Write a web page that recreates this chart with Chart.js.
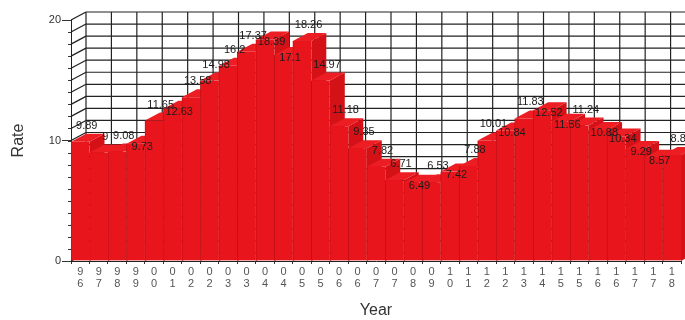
<!DOCTYPE html>
<html>
<head>
<meta charset="utf-8">
<script src="https://cdn.jsdelivr.net/npm/chart.js@4.4.0/dist/chart.umd.min.js"></script>
<style>
  body { margin: 0; background: #fff; }
  #wrap { width: 685px; height: 320px; }
</style>
</head>
<body>
<div id="wrap"><canvas id="chartRate"></canvas></div>
<script>
// dados
const anos = ['96','97','98','99','00','01','02','02','03','03','04','04','05','05','06','06','07','07','08','09','10','11','12','12','13','14','15','15','16','16','17','17','18'];
const taxas = [9.89, 9, 9.08, 9.73, 11.65, 12.63, 13.58, 14.98, 16.2, 17.37, 18.39, 17.1, 18.26, 14.97, 11.18, 9.35, 7.82, 6.71, 6.49, 6.53, 7.42, 7.88, 10.01, 10.84, 11.83, 12.52, 11.56, 11.24, 10.88, 10.34, 9.29, 8.57, 8.8];
const yMin = 0;
const yMax = 20;

const fonte = "'Liberation Sans', Arial, sans-serif";
const prof = { dx: 15, dy: -8 };   // profundidade do efeito 3D

function linha(ctx, x1, y1, x2, y2) {
    ctx.beginPath();
    ctx.moveTo(x1, y1);
    ctx.lineTo(x2, y2);
    ctx.stroke();
}

function poligono(ctx, pts, cor) {
    ctx.beginPath();
    ctx.moveTo(pts[0][0], pts[0][1]);
    for (let i = 1; i < pts.length; i++) ctx.lineTo(pts[i][0], pts[i][1]);
    ctx.closePath();
    ctx.fillStyle = cor;
    ctx.fill();
}

// parede do fundo + faces de cima e do lado das barras
const parede3D = {
    id: 'parede3D',
    beforeDatasetsDraw(chart) {
        const { ctx, chartArea: a, scales: { x, y } } = chart;
        ctx.save();
        ctx.strokeStyle = '#222';
        ctx.lineWidth = 1.2;

        for (let v = yMin; v <= yMax; v++) {
            const py = y.getPixelForValue(v);
            linha(ctx, a.left, py, a.left + prof.dx, py + prof.dy);
            linha(ctx, a.left + prof.dx, py + prof.dy, a.right + prof.dx, py + prof.dy);
        }
        const n = 24;
        for (let i = 0; i <= n; i++) {
            const px = a.left + prof.dx + (a.right - a.left) * i / n;
            linha(ctx, px, y.getPixelForValue(yMax) + prof.dy, px, y.getPixelForValue(yMin) + prof.dy);
        }

        const base = y.getPixelForValue(0);
        chart.getDatasetMeta(0).data.forEach(bar => {
            const p = bar.getProps(['x', 'y', 'width'], true);
            const x0 = p.x - p.width / 2;
            const x1 = p.x + p.width / 2;
            poligono(ctx, [[x1, p.y], [x1 + prof.dx, p.y + prof.dy], [x1 + prof.dx, base + prof.dy], [x1, base]], '#d31117');
            poligono(ctx, [[x0, p.y], [x1, p.y], [x1 + prof.dx, p.y + prof.dy], [x0 + prof.dx, p.y + prof.dy]], '#ec1d23');
        });
        ctx.restore();
    },
    afterDatasetsDraw(chart) {
        // rótulos de valor, evitando sobreposição
        const { ctx } = chart;
        ctx.save();
        ctx.font = '11px ' + fonte;
        ctx.fillStyle = '#1c1c1c';
        ctx.textAlign = 'center';
        ctx.textBaseline = 'middle';
        const caixas = [];
        const colide = (c) => caixas.some(b => c.l < b.r && c.r > b.l && Math.abs(c.y - b.y) < 13);
        chart.getDatasetMeta(0).data.forEach((bar, i) => {
            const txt = String(taxas[i]);
            const w = ctx.measureText(txt).width;
            const cx = bar.x + prof.dx / 2 - 1;
            let c = { l: cx - w / 2, r: cx + w / 2, y: bar.y - 16 };
            if (colide(c)) c.y = bar.y + 3;
            caixas.push(c);
            ctx.fillText(txt, cx, c.y);
        });
        ctx.restore();
    }
};

const ctx = document.getElementById('chartRate').getContext('2d');
const graficoTaxa = new Chart(ctx, {
    type: 'bar',
    data: {
        labels: anos,
        datasets: [{
            label: 'Rate',
            data: taxas,
            backgroundColor: '#e8161c',
            borderColor: '#c41016',
            borderWidth: { left: 1, right: 0, top: 0, bottom: 0 },
            borderSkipped: false,
            categoryPercentage: 1,
            barPercentage: 1
        }]
    },
    options: {
        responsive: true,
        maintainAspectRatio: false,
        animation: false,
        layout: { padding: { top: 20, right: 4, left: 0, bottom: 0 } },
        plugins: {
            legend: { display: false },
            tooltip: { enabled: false }
        },
        scales: {
            x: {
                grid: { drawOnChartArea: false, tickLength: 3, color: '#333' },
                border: { color: '#222' },
                ticks: {
                    autoSkip: false,
                    maxRotation: 0,
                    padding: 2,
                    color: '#555',
                    font: { family: fonte, size: 11, lineHeight: 1.1 },
                    callback: function(v) {
                        const s = this.getLabelForValue(v);
                        return [s[0], s[1]];
                    }
                },
                title: {
                    display: true,
                    text: 'Year',
                    color: '#333',
                    font: { family: fonte, size: 16 },
                    padding: { top: 0, bottom: 0 }
                },
                afterFit: s => { s.height = 59; }
            },
            y: {
                min: yMin,
                max: yMax,
                grid: {
                    drawOnChartArea: false,
                    tickLength: 9,
                    tickColor: c => (c.tick && c.tick.value % 10 === 0) ? '#333' : 'transparent'
                },
                border: { color: '#222' },
                ticks: {
                    stepSize: 1,
                    autoSkip: false,
                    padding: 1,
                    color: '#333',
                    font: { family: fonte, size: 11 },
                    callback: v => v % 10 === 0 ? v : ''
                },
                title: {
                    display: true,
                    text: 'Rate',
                    color: '#333',
                    font: { family: fonte, size: 16 },
                    padding: { top: 9, bottom: 0 }
                },
                afterFit: s => { s.width = 71; }
            }
        }
    },
    plugins: [parede3D, {
        id: 'tracosMenores',
        afterDraw(chart) {
            const { ctx, scales: { y } } = chart;
            ctx.save();
            ctx.strokeStyle = '#333';
            ctx.lineWidth = 1;
            for (let v = yMin; v <= yMax; v++) {
                const py = Math.round(y.getPixelForValue(v)) + 0.5;
                linha(ctx, y.right - 3, py, y.right, py);
            }
            ctx.restore();
        }
    }]
});
</script>
</body>
</html>
